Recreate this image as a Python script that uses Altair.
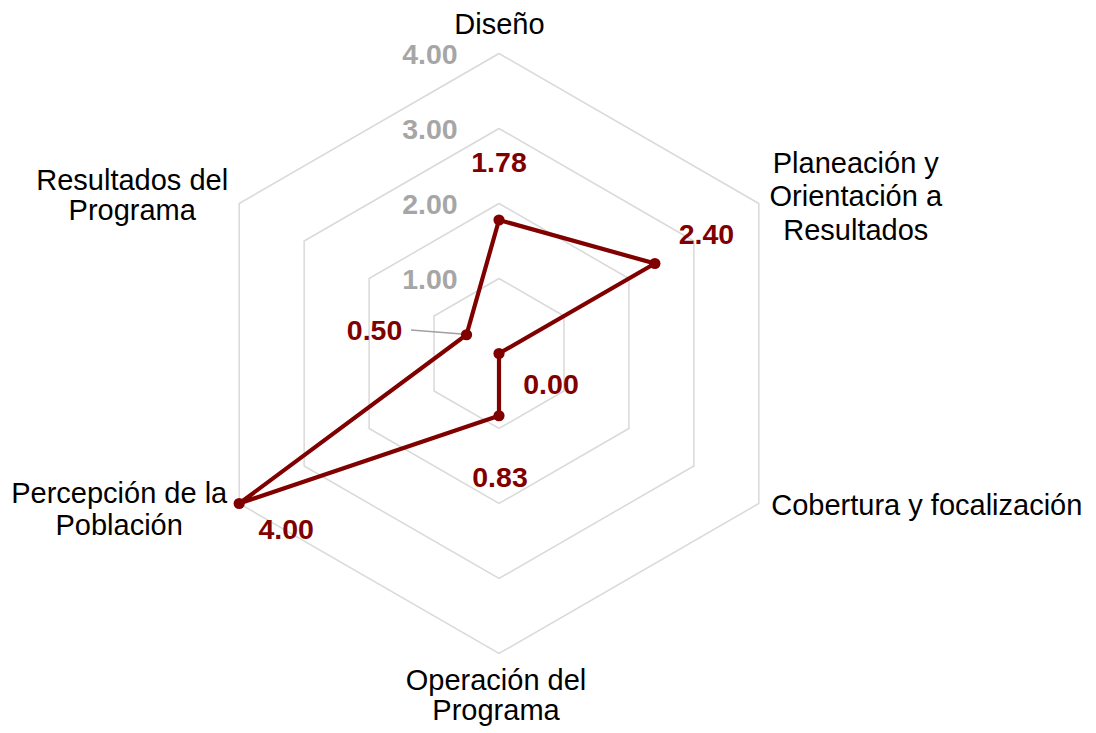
import altair as alt
import pandas as pd
import numpy as np

# ---- data ----
categories = [
    "Diseño",
    "Planeación y\nOrientación a\nResultados",
    "Cobertura y focalización",
    "Operación del\nPrograma",
    "Percepción de la\nPoblación",
    "Resultados del\nPrograma",
]
values = [1.78, 2.40, 0.00, 0.83, 4.00, 0.50]
grid_levels = [1, 2, 3, 4]
axis_max = 4

# ---- styles (pixel offsets of labels) ----
cat_dx = [0.5, 97, 168, -3, -120, -107]
cat_dy = [-20, -31, 11.5, 36, -1, -13.5]
cat_lh = [31, 33.5, 31, 30, 32.5, 30]
val_dx = [0, 51.6, 52, 1, 47, -92]
val_dy = [-48.3, -19.5, 40.5, 71, 35, 5.3]

LINE = "#800000"
GRID = "#d9d9d9"
AXL = "#a6a6a6"
FONT = "Liberation Sans"
FS_CAT = 29
FS_VAL = 28.5

n = len(categories)
angles = np.pi / 2 - np.arange(n) * 2 * np.pi / n

xs = alt.Scale(domain=[-491 / 75, 589 / 75], nice=False, zero=False)
ys = alt.Scale(domain=[-379.5 / 75, 345.5 / 75], nice=False, zero=False)

# grid hexagons
grid_rows = []
for lv in grid_levels:
    for k in range(n + 1):
        a = angles[k % n]
        grid_rows.append({"level": lv, "k": k, "x": lv * np.cos(a), "y": lv * np.sin(a)})
grid_df = pd.DataFrame(grid_rows)

# data polygon
poly_rows = []
for k in range(n + 1):
    i = k % n
    poly_rows.append({"k": k, "cat": categories[i], "value": values[i],
                      "x": values[i] * np.cos(angles[i]), "y": values[i] * np.sin(angles[i])})
poly_df = pd.DataFrame(poly_rows)
pts_df = poly_df[poly_df.k < n].copy()

# category label anchors (outer vertex)
cat_df = pd.DataFrame({"cat": categories,
                       "x": axis_max * np.cos(angles), "y": axis_max * np.sin(angles)})

# axis labels
axl_df = pd.DataFrame({"level": grid_levels, "x": [0.0] * len(grid_levels), "y": grid_levels})

X = lambda: alt.X("x:Q", scale=xs, axis=None)
Y = lambda: alt.Y("y:Q", scale=ys, axis=None)

grid = alt.Chart(grid_df).mark_line(color=GRID, strokeWidth=1.5).encode(
    x=X(), y=Y(), detail="level:N", order="k:Q")

axis_labels = alt.Chart(axl_df).mark_text(
    font=FONT, fontSize=FS_VAL, fontWeight="bold", color=AXL, align="right",
    baseline="alphabetic", dx=-41.3, dy=10).encode(
    x=X(), y=Y(), text=alt.Text("level:Q", format=".2f"))

line = alt.Chart(poly_df).mark_line(color=LINE, strokeWidth=4.2).encode(
    x=X(), y=Y(), order="k:Q")

pts = alt.Chart(pts_df).mark_circle(color=LINE, opacity=1, size=125).encode(x=X(), y=Y())

# leader line for the 0.50 label
leader = alt.Chart(pts_df[pts_df.value == 0.50]).mark_rule(
    color="#a0a0a0", strokeWidth=1.5, xOffset=-55.5, yOffset=-4.75,
    x2Offset=-4.8, y2Offset=-0.75).encode(x=X(), y=Y(), x2="x:Q", y2="y:Q")

layers = [grid, axis_labels, leader, line, pts]

for i in range(n):
    layers.append(alt.Chart(cat_df.iloc[[i]]).mark_text(
        font=FONT, fontSize=FS_CAT, color="black", align="center", baseline="alphabetic",
        lineBreak="\n", lineHeight=cat_lh[i], dx=cat_dx[i], dy=cat_dy[i]).encode(
        x=X(), y=Y(), text="cat:N"))
    layers.append(alt.Chart(pts_df.iloc[[i]]).mark_text(
        font=FONT, fontSize=FS_VAL, fontWeight="bold", color=LINE, align="center",
        baseline="alphabetic", dx=val_dx[i], dy=val_dy[i]).encode(
        x=X(), y=Y(), text=alt.Text("value:Q", format=".2f")))

chart = alt.layer(*layers).properties(
    width=1080, height=725, padding=0, background="white",
    autosize=alt.AutoSizeParams(type="none"),
).configure_view(stroke="transparent", strokeWidth=0)

chart.save("out.html", embed_options={"renderer": "svg", "actions": False})
